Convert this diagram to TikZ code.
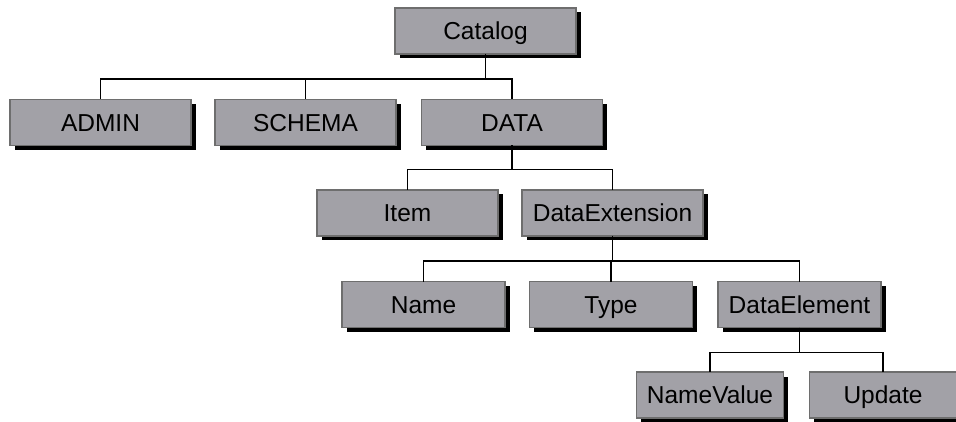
\documentclass[tikz,border=0pt]{standalone}
\usepackage{fontspec}
\setmainfont{Liberation Sans}
\usetikzlibrary{positioning, calc, shadows}

\definecolor{boxfill}{HTML}{A2A1A7}
\definecolor{boxline}{HTML}{6E6E6E}

\tikzset{
	treebox/.style={draw=boxline, fill=boxfill, line width=1.2pt, minimum height=46pt,
		inner sep=0pt, outer sep=0pt, font=\fontsize{24.5}{28}\selectfont,
		text height=17.6pt, text depth=0pt,
		drop shadow={shadow xshift=4.5pt, shadow yshift=-4.5pt, fill=black, opacity=1}},
	wide/.style={treebox, minimum width=181pt},
	mid/.style={treebox, minimum width=163pt},
	small/.style={treebox, minimum width=147pt},
	link/.style={black, line width=1.3pt},
}

\begin{document}
\begin{tikzpicture}[x=1pt, y=-1pt]
	\useasboundingbox (0,0) rectangle (956,422);
	
	\node[wide] (catalog) at (485.5,31) {Catalog};
	
	\node[wide] (admin) at (100.5,122.5) {ADMIN};
	\node[wide] (schema) at (305.5,122.5) {SCHEMA};
	\node[wide] (data) at (512,122.5) {DATA};
	
	\node[wide] (item) at (407.5,213) {Item};
	\node[wide] (dataext) at (612.5,213) {DataExtension};
	
	\node[mid] (name) at (423.5,304.5) {Name};
	\node[mid] (type) at (611,304.5) {Type};
	\node[mid] (dataelem) at (799.5,304.5) {DataElement};
	
	\node[small] (namevalue) at (710,395) {NameValue};
	\node[small] (update) at (883,395) {Update};
	
	% connectors
	\foreach \kid in {admin,schema,data}
		\draw[link] (catalog.south) -- ++(0,25) -| (\kid.north);
	\foreach \kid in {item,dataext}
		\draw[link] (data.south) -- ++(0,24) -| (\kid.north);
	\foreach \kid in {name,type,dataelem}
		\draw[link] (dataext.south) -- ++(0,25) -| (\kid.north);
	\foreach \kid in {namevalue,update}
		\draw[link] (dataelem.south) -- ++(0,25) -| (\kid.north);
\end{tikzpicture}
\end{document}
